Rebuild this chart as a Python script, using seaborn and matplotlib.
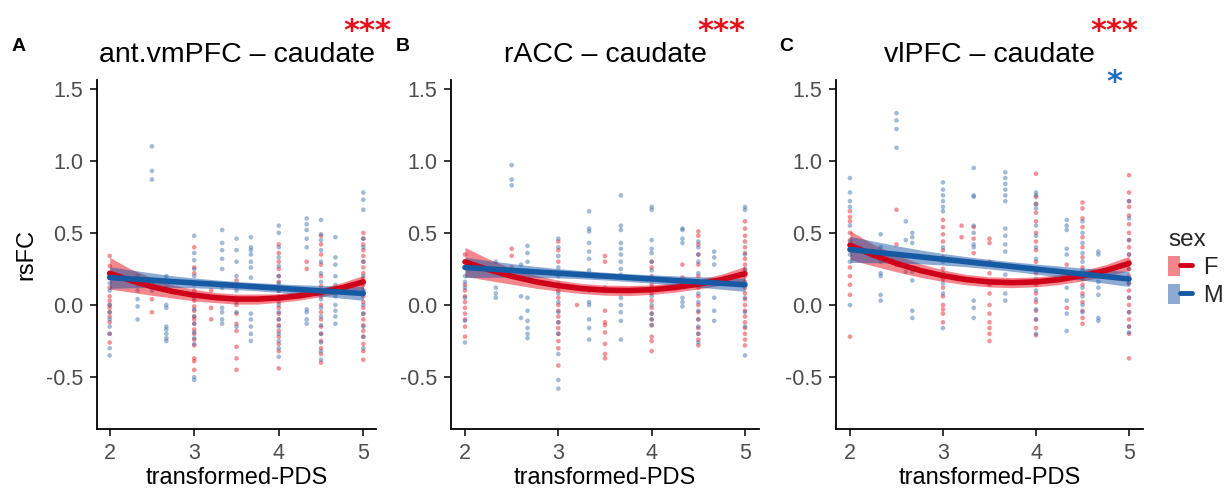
import matplotlib
matplotlib.use("Agg")
import matplotlib.pyplot as plt
import numpy as np
import pandas as pd
import seaborn as sns
from matplotlib.patches import Patch
from matplotlib.lines import Line2D
from matplotlib.legend_handler import HandlerTuple

sns.set_theme(style="ticks")
plt.rcParams['font.family'] = ['Liberation Sans', 'DejaVu Sans']
plt.rcParams['axes.unicode_minus'] = False

# ---------------- data ----------------
TITLES = ["ant.vmPFC \u2013 caudate", "rACC \u2013 caudate", "vlPFC \u2013 caudate"]
LETTERS = ["A", "B", "C"]
X_TICKS = [2, 3, 4, 5]
Y_TICKS = [-0.5, 0.0, 0.5, 1.0, 1.5]
Y_TICK_LABELS = ["-0.5", "0.0", "0.5", "1.0", "1.5"]
X_LABEL = "transformed-PDS"
Y_LABEL = "rsFC"
SEXES = ["F", "M"]

# observed points: PDS level -> rsFC values
A_F_POINTS = {
    2: [0.34, 0.27, 0.2, 0.12, 0.06, 0.03, 0.0, -0.02, -0.05, -0.08, -0.12, -0.2, -0.26],
    2.5: [0.04, -0.05],
    3: [0.4, 0.26, 0.22, 0.1, 0.03, -0.01, -0.04, -0.08, -0.1, -0.13, -0.17, -0.2, -0.24, -0.28, -0.37, -0.39, -0.45],
    3.2: [0.1, -0.02, -0.1],
    3.5: [0.17, 0.05, 0.0, -0.06, -0.13, -0.18, -0.29, -0.37, -0.45],
    4: [0.42, 0.36, 0.3, 0.25, 0.2, 0.16, 0.1, 0.06, 0.02, -0.02, -0.06, -0.1, -0.14, -0.18, -0.22, -0.27, -0.32, -0.44],
    4.33: [0.3, 0.25],
    4.5: [0.48, 0.42, 0.35, 0.28, 0.2, 0.13, 0.06, 0.0, -0.05, -0.1, -0.15, -0.2, -0.25, -0.3, -0.34, -0.4],
    5: [0.5, 0.46, 0.42, 0.38, 0.34, 0.3, 0.26, 0.22, 0.18, 0.14, 0.1, 0.06, 0.02, -0.02, -0.06, -0.1, -0.14, -0.18, -0.22, -0.27, -0.32, -0.38],
}
A_M_POINTS = {
    2: [0.2, 0.15, 0.1, 0.0, -0.05, -0.1, -0.15, -0.2, -0.3, -0.35],
    2.33: [0.2, 0.14, 0.1, 0.04, -0.01, -0.1],
    2.5: [1.1, 0.93, 0.87, 0.15, 0.1],
    2.67: [0.2, 0.17, 0.12, 0.0, -0.02, -0.15, -0.17, -0.2, -0.23, -0.25],
    3: [0.48, 0.36, 0.31, 0.25, 0.2, 0.14, 0.05, -0.03, -0.08, -0.13, -0.19, -0.23, -0.27, -0.5, -0.52],
    3.33: [0.52, 0.43, 0.38, 0.32, 0.25, 0.12, -0.02, -0.05, -0.1, -0.13],
    3.5: [0.46, 0.38, 0.3, 0.2, 0.1, 0.02, -0.05, -0.15],
    3.67: [0.47, 0.4, 0.38, 0.35, 0.3, 0.26, 0.19, -0.06, -0.1, -0.15, -0.2, -0.25],
    4: [0.55, 0.5, 0.4, 0.33, 0.27, 0.2, 0.15, 0.1, 0.05, 0.0, -0.05, -0.1, -0.15, -0.2, -0.25, -0.3, -0.36],
    4.33: [0.6, 0.56, 0.52, 0.46, 0.4, -0.03, -0.05, -0.1, -0.13],
    4.5: [0.59, 0.49, 0.45, 0.38, 0.3, 0.22, 0.16, 0.1, 0.04, -0.02, -0.08, -0.14, -0.2, -0.26, -0.32, -0.38],
    4.67: [0.47, 0.33, 0.28, 0.2, 0.14, 0.06, 0.0, -0.04, -0.08, -0.13],
    5: [0.78, 0.73, 0.66, 0.46, 0.4, 0.3, 0.2, 0.1, 0.0, -0.06, -0.15, -0.22, -0.3],
}
B_F_POINTS = {
    2: [0.35, 0.26, 0.14, 0.1, 0.06, 0.02, -0.02, -0.06, -0.1, -0.15, -0.22],
    2.5: [0.39, 0.34, 0.26],
    3: [0.44, 0.38, 0.3, 0.1, 0.05, 0.0, -0.04, -0.08, -0.12, -0.16, -0.2, -0.25, -0.3, -0.42],
    3.2: [0.0],
    3.5: [0.34, 0.3, -0.04, -0.12, -0.14, -0.19, -0.27, -0.34, -0.37],
    4: [0.3, 0.26, 0.2, 0.14, 0.08, 0.03, -0.02, -0.06, -0.1, -0.14, -0.22, -0.25, -0.32],
    4.33: [0.28, 0.19],
    4.5: [0.51, 0.48, 0.42, 0.35, 0.28, 0.2, 0.12, 0.06, 0.0, -0.05, -0.1, -0.16, -0.2, -0.24, -0.28],
    5: [0.58, 0.53, 0.48, 0.44, 0.4, 0.36, 0.32, 0.28, 0.24, 0.2, 0.16, 0.12, 0.08, 0.04, 0.0, -0.04, -0.08, -0.12, -0.16, -0.2, -0.24, -0.28],
}
B_M_POINTS = {
    2: [0.2, 0.16, 0.12, 0.05, -0.11, -0.26],
    2.33: [0.3, 0.12, 0.08, 0.05],
    2.5: [0.97, 0.87, 0.83],
    2.6: [0.28, 0.06, -0.09],
    2.67: [0.41, 0.36, 0.3, 0.05, -0.04, -0.11, -0.16, -0.2, -0.23],
    3: [0.46, 0.4, 0.34, 0.26, 0.2, 0.15, 0.08, 0.02, -0.05, -0.12, -0.2, -0.34, -0.52, -0.58],
    3.33: [0.65, 0.53, 0.51, 0.43, 0.37, 0.32, 0.24, 0.1, 0.02, 0.0, -0.1, -0.16, -0.24],
    3.5: [0.2, 0.12],
    3.67: [0.76, 0.55, 0.52, 0.43, 0.39, 0.35, 0.3, 0.25, 0.21, 0.05, 0.0, -0.05, -0.11, -0.24],
    4: [0.68, 0.66, 0.45, 0.39, 0.36, 0.3, 0.24, 0.18, 0.12, 0.06, 0.0, -0.06, -0.1, -0.14],
    4.33: [0.53, 0.52, 0.46, 0.43, 0.05, 0.02, -0.01],
    4.5: [0.44, 0.4, 0.35, 0.3, 0.22, 0.15, 0.08, 0.02, -0.04, -0.1, -0.15, -0.2, -0.26],
    4.67: [0.37, 0.33, 0.28, 0.05, -0.04, -0.11],
    5: [0.68, 0.66, 0.35, 0.25, 0.15, 0.05, -0.05, -0.15, -0.35],
}
C_F_POINTS = {
    2: [0.65, 0.61, 0.58, 0.5, 0.45, 0.38, 0.26, 0.2, 0.14, 0.07, -0.22],
    2.5: [0.66, 0.42, 0.28],
    3: [0.59, 0.54, 0.49, 0.44, 0.38, 0.33, 0.25, 0.18, 0.12, 0.06, 0.0, -0.03, -0.06, -0.12],
    3.2: [0.55, 0.47],
    3.33: [0.54, 0.46, 0.36],
    3.5: [0.46, 0.43, 0.3, 0.22, 0.14, 0.08, 0.0, -0.06, -0.12, -0.16, -0.2, -0.25],
    4: [0.91, 0.75, 0.7, 0.64, 0.58, 0.5, 0.44, 0.38, 0.3, 0.22, 0.14, 0.08, 0.02, -0.04, -0.1, -0.16, -0.21],
    4.33: [0.28, -0.02],
    4.5: [0.71, 0.67, 0.6, 0.54, 0.47, 0.4, 0.33, 0.26, 0.2, 0.14, 0.08, 0.02, -0.04, -0.09, -0.13],
    5: [0.9, 0.78, 0.72, 0.68, 0.62, 0.56, 0.5, 0.45, 0.4, 0.35, 0.3, 0.25, 0.2, 0.15, 0.1, 0.05, 0.0, -0.05, -0.1, -0.15, -0.2, -0.37],
}
C_M_POINTS = {
    2: [0.88, 0.78, 0.72, 0.68, 0.55, 0.44, 0.35, 0.3, 0.0],
    2.33: [0.49, 0.4, 0.35, 0.3, 0.22, 0.2, 0.07, 0.03],
    2.5: [1.33, 1.28, 1.22, 1.09],
    2.6: [0.58, 0.45, 0.23],
    2.67: [0.5, 0.47, 0.43, 0.23, 0.17, -0.04, -0.09],
    3: [0.85, 0.8, 0.76, 0.72, 0.68, 0.65, 0.4, 0.3, 0.22, 0.15, 0.08, -0.16],
    3.33: [0.95, 0.76, 0.75, 0.55, 0.5, 0.42, 0.4, 0.03, -0.02, -0.09],
    3.67: [0.92, 0.88, 0.84, 0.8, 0.76, 0.72, 0.53, 0.48, 0.42, 0.37, 0.21, 0.15, 0.08, 0.03],
    4: [0.78, 0.76, 0.7, 0.67, 0.55, 0.48, 0.4, 0.32, 0.25, 0.18, 0.1, 0.04, -0.03, -0.1, -0.2],
    4.33: [0.59, 0.55, 0.52, 0.39, 0.35, 0.12, 0.03, -0.06, -0.18],
    4.5: [0.58, 0.5, 0.43, 0.36, 0.3, 0.24, 0.18, 0.12, 0.06, 0.0, -0.05],
    4.67: [0.37, 0.35, 0.16, 0.12, 0.07, -0.09, -0.11],
    5: [0.72, 0.6, 0.45, 0.35, 0.25, 0.15, 0.05, -0.05, -0.15, -0.19],
}

# fitted curves with confidence bands
FIT_X = [2.0, 2.25, 2.5, 2.75, 3.0, 3.25, 3.5, 3.75, 4.0, 4.25, 4.5, 4.75, 5.0]
A_F_FIT = [0.22, 0.169, 0.127, 0.093, 0.068, 0.051, 0.041, 0.041, 0.048, 0.064, 0.088, 0.12, 0.16]
A_F_LO = [0.11, 0.089, 0.067, 0.048, 0.028, 0.016, 0.006, 0.006, 0.018, 0.034, 0.058, 0.085, 0.115]
A_F_HI = [0.33, 0.249, 0.187, 0.138, 0.108, 0.086, 0.076, 0.076, 0.078, 0.094, 0.118, 0.155, 0.205]
A_M_FIT = [0.19, 0.181, 0.172, 0.162, 0.153, 0.144, 0.135, 0.126, 0.117, 0.107, 0.098, 0.089, 0.08]
A_M_LO = [0.115, 0.119, 0.122, 0.122, 0.119, 0.114, 0.107, 0.098, 0.087, 0.074, 0.061, 0.047, 0.032]
A_M_HI = [0.265, 0.243, 0.222, 0.202, 0.187, 0.174, 0.163, 0.154, 0.147, 0.14, 0.135, 0.131, 0.128]
B_F_FIT = [0.299, 0.245, 0.199, 0.162, 0.134, 0.114, 0.103, 0.1, 0.106, 0.121, 0.144, 0.176, 0.217]
B_F_LO = [0.199, 0.17, 0.144, 0.117, 0.096, 0.079, 0.068, 0.065, 0.073, 0.089, 0.111, 0.138, 0.167]
B_F_HI = [0.399, 0.32, 0.254, 0.207, 0.172, 0.149, 0.138, 0.135, 0.139, 0.153, 0.177, 0.214, 0.267]
B_M_FIT = [0.26, 0.25, 0.24, 0.23, 0.22, 0.21, 0.2, 0.19, 0.18, 0.17, 0.16, 0.15, 0.14]
B_M_LO = [0.19, 0.192, 0.193, 0.192, 0.188, 0.182, 0.173, 0.163, 0.151, 0.138, 0.124, 0.109, 0.094]
B_M_HI = [0.33, 0.308, 0.287, 0.268, 0.252, 0.238, 0.227, 0.217, 0.209, 0.202, 0.196, 0.191, 0.186]
C_F_FIT = [0.415, 0.346, 0.288, 0.24, 0.203, 0.176, 0.16, 0.155, 0.16, 0.176, 0.203, 0.24, 0.288]
C_F_LO = [0.315, 0.271, 0.23, 0.193, 0.163, 0.14, 0.125, 0.12, 0.126, 0.142, 0.167, 0.2, 0.238]
C_F_HI = [0.515, 0.421, 0.346, 0.287, 0.243, 0.212, 0.195, 0.19, 0.194, 0.21, 0.239, 0.28, 0.338]
C_M_FIT = [0.385, 0.368, 0.351, 0.334, 0.317, 0.3, 0.283, 0.266, 0.249, 0.232, 0.214, 0.197, 0.18]
C_M_LO = [0.295, 0.293, 0.291, 0.286, 0.277, 0.265, 0.25, 0.233, 0.214, 0.194, 0.172, 0.15, 0.128]
C_M_HI = [0.475, 0.443, 0.411, 0.382, 0.357, 0.335, 0.316, 0.299, 0.284, 0.27, 0.256, 0.244, 0.232]

# significance markers per panel
RED_STARS = ["***", "***", "***"]
BLUE_STARS = ["", "", "*"]

# ---------------- styling ----------------
POINT_COL = {"F": "#E4111E", "M": "#3466A8"}
BAND_COL = {"F": "#E8101C", "M": "#1A56A6"}
LINE_COL = {"F": "#CF0019", "M": "#165AA3"}
TXT = "#4D4D4D"

W, H = 1230, 488
fig = plt.figure(figsize=(W / 100, H / 100), dpi=100)

axes_px = [(97, 376), (451, 759), (836, 1143)]
top_px, bot_px = 80, 429

panels = [
    (A_F_POINTS, A_M_POINTS, (A_F_FIT, A_F_LO, A_F_HI), (A_M_FIT, A_M_LO, A_M_HI)),
    (B_F_POINTS, B_M_POINTS, (B_F_FIT, B_F_LO, B_F_HI), (B_M_FIT, B_M_LO, B_M_HI)),
    (C_F_POINTS, C_M_POINTS, (C_F_FIT, C_F_LO, C_F_HI), (C_M_FIT, C_M_LO, C_M_HI)),
]


def to_frame(points, sex):
    rows = [(x, y, sex) for x, ys in points.items() for y in ys]
    return pd.DataFrame(rows, columns=["pds", "rsfc", "sex"])


star_x = [367, 721, 1114]
letter_x = [12, 396, 779]

for i, (fpts, mpts, ffit, mfit) in enumerate(panels):
    l, r = axes_px[i]
    ax = fig.add_axes([l / W, 1 - bot_px / H, (r - l) / W, (bot_px - top_px) / H])
    df = pd.concat([to_frame(fpts, "F"), to_frame(mpts, "M")], ignore_index=True)
    sns.scatterplot(data=df, x="pds", y="rsfc", hue="sex", palette=POINT_COL,
                    s=11, alpha=0.45, linewidth=0, legend=False, ax=ax, zorder=1)
    for sex, (fit, lo, hi) in zip(SEXES, [ffit, mfit]):
        ax.fill_between(FIT_X, lo, hi, color=BAND_COL[sex], alpha=0.5, lw=0, zorder=2)
        sns.lineplot(x=FIT_X, y=fit, color=LINE_COL[sex], lw=4, ax=ax, zorder=3)
    ax.set_xlim(1.85, 5.15)
    ax.set_ylim(-0.86, 1.56)
    ax.set_xticks(X_TICKS)
    ax.set_xticklabels([str(t) for t in X_TICKS])
    ax.set_yticks(Y_TICKS)
    ax.set_yticklabels(Y_TICK_LABELS)
    ax.set_xlabel("")
    ax.set_ylabel("")
    sns.despine(ax=ax)
    for s in ["left", "bottom"]:
        ax.spines[s].set_linewidth(1.3)
        ax.spines[s].set_color("black")
    ax.tick_params(axis="both", length=5, width=1.1, color="black",
                   labelsize=15.5, labelcolor=TXT, pad=5)

    cx = (l + r) / 2
    fig.text(cx / W, 1 - 62 / H, TITLES[i], ha="center", va="baseline", fontsize=20.5, color="black")
    fig.text(cx / W, 1 - 484 / H, X_LABEL, ha="center", va="baseline", fontsize=17, color="black")
    fig.text(letter_x[i] / W, 1 - 51 / H, LETTERS[i], ha="left", va="baseline",
             fontsize=14, fontweight="bold", color="black")
    fig.text(star_x[i] / W, 1 - 40 / H, RED_STARS[i], ha="center", va="baseline",
             fontsize=22, fontweight="bold", color="#E8101C", family="DejaVu Sans")
    if BLUE_STARS[i]:
        fig.text(star_x[i] / W, 1 - 91 / H, BLUE_STARS[i], ha="center", va="baseline",
                 fontsize=22, fontweight="bold", color="#1F6FBF", family="DejaVu Sans")

fig.text(26 / W, 1 - 255 / H, Y_LABEL, rotation=90, ha="center", va="center", fontsize=17, color="black")

handles = [
    (Patch(facecolor=BAND_COL[s], alpha=0.5, edgecolor="none"),
     Line2D([], [], color=LINE_COL[s], lw=3.5))
    for s in SEXES
]
leg = fig.legend(handles, SEXES, title="sex", loc="upper left",
                 bbox_to_anchor=(1168 / W, 1 - 229 / H), frameon=False,
                 fontsize=17, title_fontsize=17.5, handlelength=1.0, handleheight=0.95,
                 handletextpad=0.5, labelspacing=0.2, borderpad=0, borderaxespad=0,
                 alignment="left", handler_map={tuple: HandlerTuple(ndivide=None)})

fig.savefig("out.png", dpi=100)
